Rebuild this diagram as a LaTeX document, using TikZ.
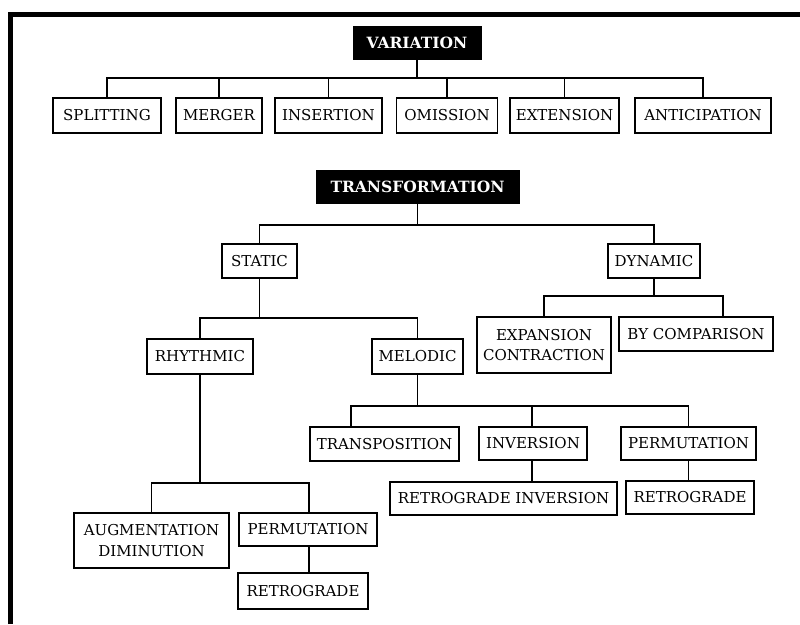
\documentclass[tikz,border=0pt]{standalone}
\usepackage{fontspec}
\setmainfont{DejaVu Serif}
\begin{document}
\begin{tikzpicture}[x=1pt,y=-1pt,
  bx/.style={draw, line width=1.1pt, inner sep=0pt, align=center,
    font=\fontsize{15}{20.5}\selectfont},
  hd/.style={fill=black, draw=black, inner sep=0pt, text=white,
    font=\fontsize{15.5}{18}\selectfont\bfseries},
  ln/.style={line width=1.1pt}]
\useasboundingbox (0,0) rectangle (800,624);
% frame
\draw[line width=5pt, line join=miter] (10.5,624) -- (10.5,14) -- (800,14);

% VARIATION
\node[hd, minimum width=128, minimum height=33] (var) at (417,42.5) {VARIATION};
\node[bx, minimum width=108, minimum height=35] (split) at (107,115.5) {SPLITTING};
\node[bx, minimum width=86, minimum height=35] (merg) at (219,115.5) {MERGER};
\node[bx, minimum width=107, minimum height=35] (ins) at (328.5,115.5) {INSERTION};
\node[bx, minimum width=101, minimum height=35] (omis) at (447,115.5) {OMISSION};
\node[bx, minimum width=109, minimum height=35] (ext) at (564.5,115.5) {EXTENSION};
\node[bx, minimum width=136, minimum height=35] (anti) at (703,115.5) {ANTICIPATION};
\coordinate (vb) at (417,78);
\draw[ln] (var.south) -- (vb);
\foreach \c in {split,merg,ins,omis,ext,anti}{
  \draw[ln] (vb) -| (\c.north);
}

% TRANSFORMATION
\node[hd, minimum width=203, minimum height=33] (trans) at (417.5,186.5) {TRANSFORMATION};
\node[bx, minimum width=75, minimum height=34] (stat) at (259.5,261) {STATIC};
\node[bx, minimum width=92, minimum height=34] (dyn) at (654,261) {DYNAMIC};
\coordinate (tb) at (417.5,225);
\draw[ln] (trans.south) -- (tb);
\draw[ln] (tb) -| (stat.north);
\draw[ln] (tb) -| (dyn.north);

% STATIC children
\node[bx, minimum width=106, minimum height=35] (rhy) at (200,356.5) {RHYTHMIC};
\node[bx, minimum width=91, minimum height=35] (mel) at (417.5,356.5) {MELODIC};
\coordinate (sb) at (259.5,318);
\draw[ln] (stat.south) -- (sb);
\draw[ln] (sb) -| (rhy.north);
\draw[ln] (sb) -| (mel.north);

% DYNAMIC children
\node[bx, minimum width=134, minimum height=56] (expc) at (544,345) {EXPANSION\\CONTRACTION};
\node[bx, minimum width=154, minimum height=34] (byc) at (696,334) {BY COMPARISON};
\coordinate (db) at (654,296);
\draw[ln] (dyn.south) -- (db);
\draw[ln] (db) -| (expc.north);
\draw[ln] (db) -| ([xshift=27pt]byc.north);

% MELODIC children
\node[bx, minimum width=149, minimum height=34] (trp) at (384.5,444) {TRANSPOSITION};
\node[bx, minimum width=108, minimum height=33] (inv) at (533,443.5) {INVERSION};
\node[bx, minimum width=135, minimum height=33] (perm) at (688.5,443.5) {PERMUTATION};
\coordinate (mb) at (417.5,406);
\draw[ln] (mel.south) -- (mb);
\draw[ln] (mb) -| ([xshift=-33.5pt]trp.north);
\draw[ln] (mb) -| ([xshift=-1pt]inv.north);
\draw[ln] (mb) -| (perm.north);
\node[bx, minimum width=227, minimum height=33] (rinv) at (503.5,498.5) {RETROGRADE INVERSION};
\node[bx, minimum width=128, minimum height=33] (retr) at (690,497.5) {RETROGRADE};
\draw[ln] ([xshift=-1pt]inv.south) -- ([xshift=-1pt]inv.south |- rinv.north);
\draw[ln] (perm.south) -- (perm.south |- retr.north);

% RHYTHMIC children
\node[bx, minimum width=155, minimum height=55] (aug) at (151.5,540.5) {AUGMENTATION\\DIMINUTION};
\node[bx, minimum width=138, minimum height=33] (permb) at (308,529.5) {PERMUTATION};
\node[bx, minimum width=130, minimum height=36] (retb) at (303,591) {RETROGRADE};
\coordinate (rb) at (200,483);
\draw[ln] (rhy.south) -- (rb);
\draw[ln] (rb) -| (aug.north);
\draw[ln] (rb) -| ([xshift=1pt]permb.north);
\draw[ln] ([xshift=1pt]permb.south) -- ([xshift=1pt]permb.south |- retb.north);
\end{tikzpicture}
\end{document}
